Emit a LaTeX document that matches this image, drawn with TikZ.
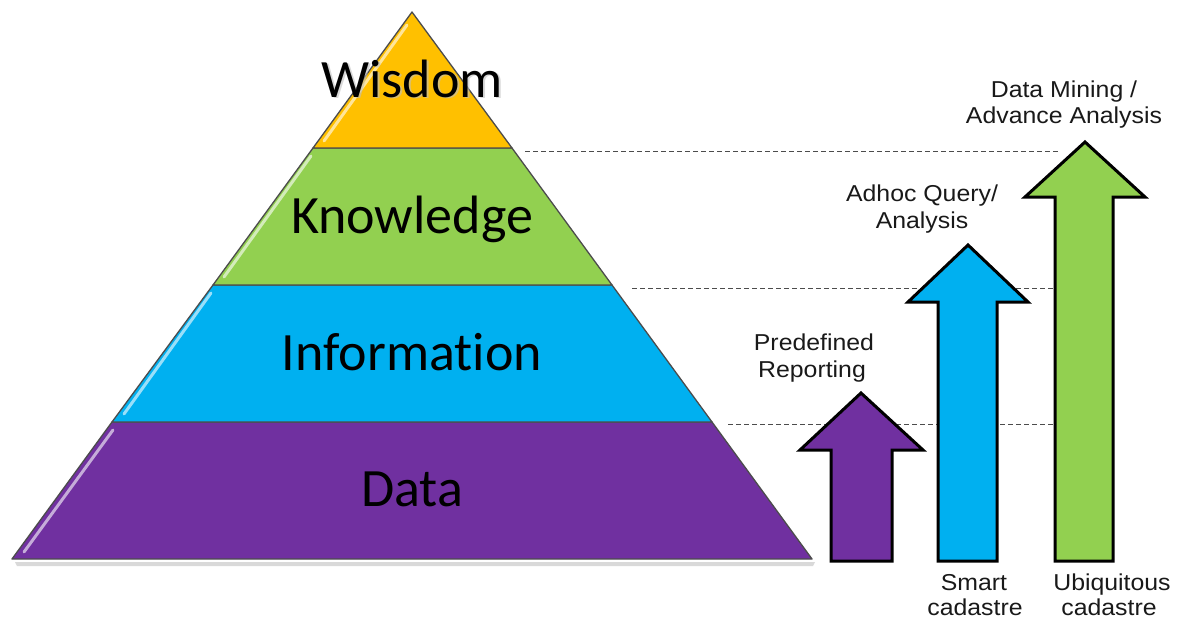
\documentclass[tikz,border=0pt]{standalone}
\usepackage{fontspec}
\newfontfamily\calib[Ligatures={NoCommon}]{Carlito}
\newfontfamily\arialf{Liberation Sans}
\definecolor{cyel}{HTML}{FFC000}
\definecolor{cgrn}{HTML}{92D050}
\definecolor{cblu}{HTML}{00B0F0}
\definecolor{cpur}{HTML}{7030A0}
\begin{document}
\begin{tikzpicture}[x=1pt,y=-1pt,
  layer/.style={draw=black!70,line width=1.3pt,line join=round},
  hilite/.style={line width=3pt,line cap=round,draw=white,opacity=0.6},
  uparrow/.style={draw=black,line width=3pt,line join=miter},
  level/.style={draw=black!70,line width=1pt,dash pattern=on 5pt off 3pt},
  big/.style={font=\calib\fontsize{54}{60}\selectfont,anchor=base,text=black},
  small/.style={font=\arialf\fontsize{23}{27}\selectfont,anchor=base,text=black!90,xscale=1.08,inner sep=0pt}]
\useasboundingbox (0,0) rectangle (1179,618);
% pyramid corners
\coordinate (apex) at (412,12);
\coordinate (w1) at (313,148); \coordinate (w2) at (512,148);
\coordinate (k1) at (213,285); \coordinate (k2) at (612,285);
\coordinate (i1) at (112,422); \coordinate (i2) at (712,422);
\coordinate (d1) at (12,559);  \coordinate (d2) at (812,559);
% shadow
\fill[black!15] (15,562) -- (815,562) -- (813,566) -- (17,566) -- cycle;
% dashed level lines
\coordinate (l1a) at (525,151); \coordinate (l1b) at (1060,151);
\coordinate (l2a) at (632,288); \coordinate (l2b) at (1060,288);
\coordinate (l3a) at (728,424); \coordinate (l3b) at (1060,424);
\draw[level] (l1a) -- (l1b);
\draw[level] (l2a) -- (l2b);
\draw[level] (l3a) -- (l3b);
% layers
\draw[layer,fill=cpur] (i1) -- (i2) -- (d2) -- (d1) -- cycle;
\draw[layer,fill=cblu] (k1) -- (k2) -- (i2) -- (i1) -- cycle;
\draw[layer,fill=cgrn] (w1) -- (w2) -- (k2) -- (k1) -- cycle;
\draw[layer,fill=cyel] (apex) -- (w2) -- (w1) -- cycle;
% highlights along left edges
\draw[hilite] (113,430) -- (24,552);
\draw[hilite] (211,293) -- (124,414);
\draw[hilite] (311,156) -- (224,277);
\draw[hilite] (407,25) -- (324,141);
% arrows
\draw[uparrow,fill=cpur] (831,561) -- (831,450) -- (800,450) -- (861,393) -- (923,450) -- (892,450) -- (892,561) -- cycle;
\draw[uparrow,fill=cblu] (938,561) -- (938,302) -- (908,302) -- (968,245) -- (1028,302) -- (997,302) -- (997,561) -- cycle;
\draw[uparrow,fill=cgrn] (1055,561) -- (1055,197) -- (1025,197) -- (1085,142) -- (1145,197) -- (1113,197) -- (1113,561) -- cycle;
% pyramid labels
\node[big,text=black!25,opacity=0.6] (wsh) at (414,99) {Wisdom};
\node[big] (wis) at (412,97) {Wisdom};
\node[big] (kno) at (412,233) {Knowledge};
\node[big] (inf) at (412,370) {Information};
\node[big] (dat) at (412,506) {Data};
% arrow labels
\node[small] (dm1) at (1064,97) {Data Mining /};
\node[small] (dm2) at (1064,123) {Advance Analysis};
\node[small] (aq1) at (922,201) {Adhoc Query/};
\node[small] (aq2) at (922,228) {Analysis};
\node[small] (pr1) at (814,350) {Predefined};
\node[small] (pr2) at (812,377) {Reporting};
\node[small] (sm1) at (974,590) {Smart};
\node[small] (sm2) at (975,615) {cadastre};
\node[small] (ub1) at (1112,590) {Ubiquitous};
\node[small] (ub2) at (1109,615) {cadastre};
\end{tikzpicture}
\end{document}
